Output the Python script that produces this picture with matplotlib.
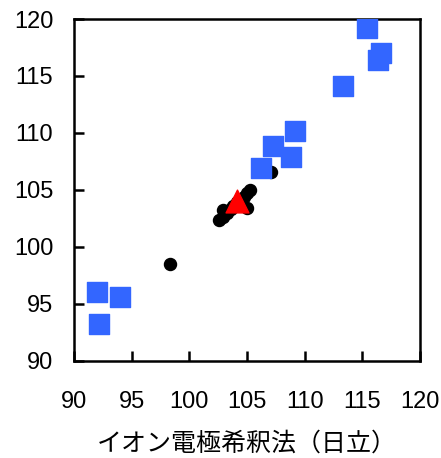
import matplotlib
matplotlib.use("Agg")
import matplotlib.pyplot as plt

plt.rcParams['font.family'] = ['Liberation Sans', 'Noto Sans CJK JP', 'DejaVu Sans']

# blue squares
sq_x = [92.0, 94.0, 92.2, 115.4, 116.6, 116.4, 113.3, 109.2, 107.3, 108.8, 106.2]
sq_y = [96.05, 95.6, 93.2, 119.2, 117.0, 116.4, 114.15, 110.2, 108.9, 107.9, 106.95]

# black dots
dot_x = [98.3, 107.1, 102.6, 102.9, 103.3, 103.6, 103.8, 104.1, 104.4, 104.7, 105.0, 105.3, 105.0, 102.9]
dot_y = [98.5, 106.6, 102.4, 102.6, 103.0, 103.3, 103.6, 103.9, 104.1, 104.4, 104.7, 105.0, 103.4, 103.2]

# red triangle
tri_x = [104.1]
tri_y = [104.0]

ticks = [90, 95, 100, 105, 110, 115, 120]

fig = plt.figure(figsize=(4.41, 4.58), dpi=100)
ax = fig.add_axes([0.168, 0.212, 0.784, 0.7465])

ax.scatter(dot_x, dot_y, s=75, c='black', zorder=2)
ax.scatter(sq_x, sq_y, s=207, marker='s', c='#3366ff', zorder=3)
ax.scatter(tri_x, tri_y, s=270, marker='^', c='#ff0000', zorder=4)

ax.set_xlim(90, 120)
ax.set_ylim(90, 120)
ax.set_xticks(ticks)
ax.set_yticks(ticks)
ax.tick_params(direction='in', length=7, width=1.8, labelsize=17, top=False, right=False)
ax.tick_params(axis='x', pad=22)
ax.tick_params(axis='y', pad=15)
for sp in ax.spines.values():
    sp.set_linewidth(1.8)

ax.set_xlabel('イオン電極希釈法（日立）', fontsize=18, labelpad=12.5,
              family=['Noto Sans CJK JP'])

fig.savefig('out.png', dpi=100)
